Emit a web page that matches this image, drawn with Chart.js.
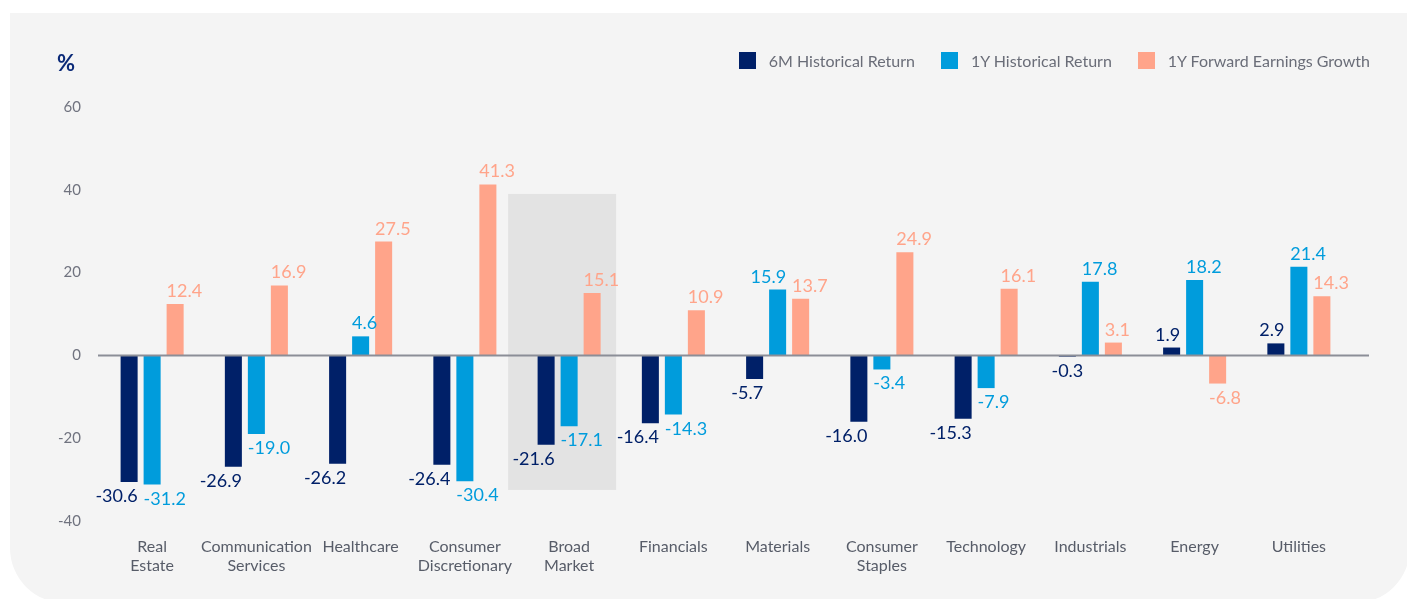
<!DOCTYPE html>
<html>
<head>
<meta charset="utf-8">
<script src="https://cdn.jsdelivr.net/npm/chart.js@4.4.0/dist/chart.umd.min.js"></script>
<style>
  body { margin: 0; background: #fff; overflow: hidden; font-family: Lato, sans-serif; }
  #card { position: absolute; left: 10px; top: 13px; width: 1400px; height: 590px; background: #f4f4f4;
          border-bottom-left-radius: 55px; border-bottom-right-radius: 55px; }
  #wrap { position: absolute; left: 0; top: 0; width: 1407px; height: 599px; }
  #pct { position: absolute; left: 57px; top: 49px; font: 700 22px Lato; color: #0b2a78; }
  #legend { position: absolute; right: 37px; top: 51px; display: flex; align-items: center; }
  .item { display: flex; align-items: center; margin-left: 26px; font-size: 16px; color: #6a6d78; }
  .sw { width: 17px; height: 17px; margin-right: 13px; }
</style>
</head>
<body>
<div id="card"></div>
<div id="wrap"><canvas id="chart" width="1407" height="599"></canvas></div>
<div id="pct">%</div>
<div id="legend"></div>
<script>
const categories = [['Real', 'Estate'], ['Communication', 'Services'], 'Healthcare', ['Consumer', 'Discretionary'],
  ['Broad', 'Market'], 'Financials', 'Materials', ['Consumer', 'Staples'], 'Technology', 'Industrials', 'Energy', 'Utilities'];
const sixMonth = [-30.6, -26.9, -26.2, -26.4, -21.6, -16.4, -5.7, -16.0, -15.3, -0.3, 1.9, 2.9];
const oneYear = [-31.2, -19.0, 4.6, -30.4, -17.1, -14.3, 15.9, -3.4, -7.9, 17.8, 18.2, 21.4];
const forwardGrowth = [12.4, 16.9, 27.5, 41.3, 15.1, 10.9, 13.7, 24.9, 16.1, 3.1, -6.8, 14.3];
const yTicks = [-40, -20, 0, 20, 40, 60];
const seriesNames = ['6M Historical Return', '1Y Historical Return', '1Y Forward Earnings Growth'];
const colors = ['#002068', '#009cdc', '#ffa48a'];

// legend in html
const legend = document.getElementById('legend');
seriesNames.forEach((n, i) => {
  legend.innerHTML += `<div class="item"><div class="sw" style="background:${colors[i]}"></div>${n}</div>`;
});

// grey box behind "Broad Market"
const highlight = {
  id: 'highlight',
  beforeDatasetsDraw(chart) {
    const x = chart.scales.x, y = chart.scales.y, c = chart.ctx;
    const cx = x.getPixelForValue(4);
    const top = y.getPixelForValue(39), bot = y.getPixelForValue(-32.5);
    c.save();
    c.fillStyle = '#e3e3e3';
    c.fillRect(cx - 61, top, 108, bot - top);
    c.restore();
  }
};

// zero line + value labels
const labels = {
  id: 'labels',
  afterDatasetsDraw(chart) {
    const c = chart.ctx, y0 = chart.scales.y.getPixelForValue(0), a = chart.chartArea;
    c.save();
    c.strokeStyle = '#8b8e97';
    c.lineWidth = 2;
    c.beginPath();
    c.moveTo(a.left - 2, y0);
    c.lineTo(a.right + 18, y0);
    c.stroke();

    c.font = '18px Lato';
    c.textBaseline = 'alphabetic';
    const metas = chart.data.datasets.map((d, di) => chart.getDatasetMeta(di).data);
    chart.data.datasets.forEach((ds, di) => {
      metas[di].forEach((bar, i) => {
        const v = ds.data[i];
        const half = bar.width / 2;
        const ty = v >= 0 ? bar.y - 7 : bar.y + 20;
        let align = di == 0 ? 'right' : 'left';
        // 1Y label goes right-aligned if it would hit the forward label next to it
        if (di == 1 && v > 0 && forwardGrowth[i] > 0 && Math.abs(metas[2][i].y - bar.y) < 18) align = 'right';
        if (Math.abs(v) < 1) align = 'center';
        const tx = align == 'right' ? bar.x + half : align == 'left' ? bar.x - half : bar.x;
        c.textAlign = align;
        c.fillStyle = ds.backgroundColor;
        c.fillText(v.toFixed(1), tx, ty);
      });
    });
    c.restore();
  }
};

new Chart(document.getElementById('chart'), {
  type: 'bar',
  data: {
    labels: categories,
    datasets: [
      { label: seriesNames[0], data: sixMonth, backgroundColor: colors[0] },
      { label: seriesNames[1], data: oneYear, backgroundColor: colors[1] },
      { label: seriesNames[2], data: forwardGrowth, backgroundColor: colors[2] }
    ]
  },
  options: {
    responsive: false,
    animation: false,
    layout: { padding: { top: 107, right: 56, left: 0, bottom: 0 } },
    datasets: { bar: { categoryPercentage: 0.662, barPercentage: 0.74 } },
    plugins: { legend: { display: false }, tooltip: { enabled: false } },
    scales: {
      x: {
        grid: { display: false, drawTicks: false },
        border: { display: false },
        ticks: { padding: 16, color: '#575c68', font: { family: 'Lato', size: 16 }, maxRotation: 0, autoSkip: false },
        afterFit: s => { s.height = 78; }
      },
      y: {
        min: -40, max: 60,
        afterBuildTicks: s => { s.ticks = yTicks.map(v => ({ value: v })); },
        grid: { display: false, drawTicks: false },
        border: { display: false },
        ticks: { padding: 19, color: '#70737f', font: { family: 'Lato', size: 15 } },
        afterFit: s => { s.width = 100; }
      }
    }
  },
  plugins: [highlight, labels]
});
</script>
</body>
</html>
